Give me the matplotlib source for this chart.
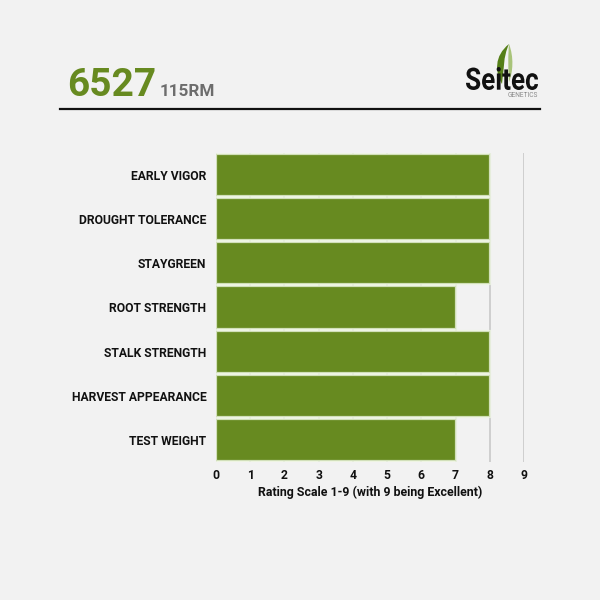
import matplotlib
matplotlib.use("Agg")
import matplotlib.pyplot as plt
from matplotlib.textpath import TextPath
from matplotlib.font_manager import FontProperties
from matplotlib.patches import PathPatch
from matplotlib.path import Path
from matplotlib.transforms import Affine2D

categories = ["EARLY VIGOR", "DROUGHT TOLERANCE", "STAYGREEN", "ROOT STRENGTH",
              "STALK STRENGTH", "HARVEST APPEARANCE", "TEST WEIGHT"]
values = [8, 8, 8, 7, 8, 8, 7]
xticks = [0, 1, 2, 3, 4, 5, 6, 7, 8, 9]
title_main = "6527"
title_sub = "115RM"
xlabel = "Rating Scale 1-9 (with 9 being Excellent)"

BG = "#f2f2f2"
GREEN = "#678a20"
plt.rcParams['font.family'] = ['Roboto', 'DejaVu Sans']

fig = plt.figure(figsize=(6, 6), dpi=100, facecolor=BG)

W, H = 600, 600
ax = fig.add_axes([216 / W, 1 - 462 / H, (524 - 216) / W, (462 - 153) / H])
ax.set_facecolor(BG)
ypos = list(range(len(categories)))
ax.barh(ypos, values, height=0.955, color=GREEN,
        edgecolor=(0.93, 0.96, 0.88, 0.8), linewidth=1.6, zorder=3)
ax.set_xlim(0, 9)
ax.set_ylim(len(categories) - 0.5, -0.5)
ax.set_yticks(ypos)
ax.set_yticklabels(categories, fontsize=8.7, fontweight='bold', color='#111111')
ax.set_xticks(xticks)
ax.set_xticklabels([str(t) for t in xticks], fontsize=8.7, fontweight='bold', color='#111111')
ax.tick_params(length=0)
ax.tick_params(axis='x', pad=5)
ax.tick_params(axis='y', pad=7)
ax.grid(axis='x', color='#c8c8c8', linewidth=1.2, zorder=0)
ax.grid(axis='y', visible=False)
for s in ax.spines.values():
    s.set_visible(False)
ax.set_xlabel(xlabel, fontsize=8.9, fontweight='bold', color='#111111', labelpad=3)

# overlay for header decorations (pixel coordinates)
ov = fig.add_axes([0, 0, 1, 1], facecolor='none')
ov.set_xlim(0, W)
ov.set_ylim(H, 0)
ov.axis('off')

ov.text(67, 96, title_main, fontsize=28, fontweight='bold', color=GREEN,
        ha='left', va='baseline')
ov.text(160, 96, title_sub, fontsize=12.3, fontweight='bold', color='#6d6d6d',
        ha='left', va='baseline')
ov.plot([60, 540], [109, 109], color='#111111', linewidth=1.6)

# logo leaf
leaf = Path([(509, 44), (494, 56), (495, 72), (502, 84),
             (504, 70), (503, 57), (509, 44)],
            [Path.MOVETO, Path.CURVE4, Path.CURVE4, Path.CURVE4,
             Path.CURVE4, Path.CURVE4, Path.CURVE4])
ov.add_patch(PathPatch(leaf, facecolor='#557f18', edgecolor='none', zorder=2))
leaf2 = Path([(509, 44), (514, 57), (513, 72), (509, 82),
              (508, 68), (508, 56), (509, 44)],
             [Path.MOVETO, Path.CURVE4, Path.CURVE4, Path.CURVE4,
              Path.CURVE4, Path.CURVE4, Path.CURVE4])
ov.add_patch(PathPatch(leaf2, facecolor='#a9c47a', edgecolor='none', zorder=2))

tp = TextPath((0, 0), "Seitec", size=100, prop=FontProperties(family='Roboto', weight='bold'))
ext = tp.get_extents()
x0, x1, y0, y1 = 466, 538, 67, 90
sx = (x1 - x0) / ext.width
sy = (y1 - y0) / ext.height
tr = Affine2D().translate(-ext.x0, -ext.y0).scale(sx, -sy).translate(x0, y1)
ov.add_patch(PathPatch(tr.transform_path(tp), facecolor='#111111', edgecolor='none', zorder=3))
ov.text(538, 97, "GENETICS", fontsize=4.8, color='#888888', ha='right', va='baseline')

fig.savefig("out.png", dpi=100, facecolor=BG)
